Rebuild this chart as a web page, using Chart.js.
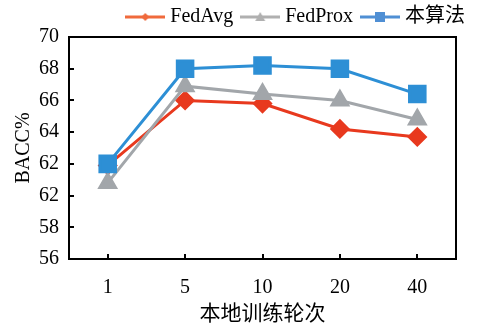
<!DOCTYPE html>
<html>
<head>
<meta charset="utf-8">
<script src="https://cdn.jsdelivr.net/npm/chart.js@4"></script>
<style>
  html, body { margin: 0; padding: 0; background: #fff; }
  #wrap { width: 482px; height: 325px; }
</style>
</head>
<body>
<div id="wrap"><canvas id="baccChart" width="482" height="325"></canvas></div>
<script>
const ROUNDS = ['1', '5', '10', '20', '40'];
const FEDAVG = [61.9, 66.0, 65.8, 64.2, 63.7];
const FEDPROX = [60.8, 66.9, 66.4, 66.0, 64.8];
const OURS = [62.0, 68.0, 68.2, 68.0, 66.4];
const Y_TICKS = ['56', '58', '62', '62', '64', '66', '68', '70'];

const FONT = "'Liberation Serif', 'Noto Sans CJK SC', serif";

// little line + marker swatch for the legend
function swatch(color, shape) {
    const c = document.createElement('canvas');
    c.width = 40; c.height = 14;
    const g = c.getContext('2d');
    g.strokeStyle = color;
    g.lineWidth = 3;
    g.beginPath(); g.moveTo(0, 7); g.lineTo(40, 7); g.stroke();
    g.fillStyle = color;
    g.beginPath();
    if (shape === 'diamond') {
        g.moveTo(20, 3); g.lineTo(24, 7); g.lineTo(20, 11); g.lineTo(16, 7);
    } else if (shape === 'triangle') {
        g.moveTo(20, 2); g.lineTo(25, 11); g.lineTo(15, 11);
    } else {
        g.rect(15, 2, 10, 10);
    }
    g.closePath(); g.fill();
    return c;
}

// box round the plot plus inward tick marks
const framePlugin = {
    id: 'frame',
    afterLayout(chart) {
        // pull the legend in a little from the right edge
        chart.legend.right = chart.width - 5;
    },
    afterDatasetsDraw(chart) {
        const { ctx, chartArea: a, scales } = chart;
        ctx.save();
        ctx.strokeStyle = '#000';
        ctx.lineWidth = 2;
        ctx.strokeRect(a.left, a.top, a.right - a.left, a.bottom - a.top);
        ctx.beginPath();
        scales.y.ticks.forEach(t => {
            const y = Math.round(scales.y.getPixelForValue(t.value));
            ctx.moveTo(a.left, y); ctx.lineTo(a.left + 5, y);
        });
        ROUNDS.forEach((r, i) => {
            const x = Math.round(scales.x.getPixelForValue(i));
            ctx.moveTo(x, a.bottom); ctx.lineTo(x, a.bottom - 5);
        });
        ctx.stroke();
        ctx.restore();
    }
};

const ctx = document.getElementById('baccChart').getContext('2d');
new Chart(ctx, {
    type: 'line',
    data: {
        labels: ROUNDS,
        datasets: [
            {
                label: 'FedAvg',
                data: FEDAVG,
                borderColor: '#e8391e',
                backgroundColor: '#e8391e',
                borderWidth: 3,
                pointStyle: 'rectRot',
                pointRadius: 8,
                pointHoverRadius: 8,
                order: 2,
                legendSwatch: swatch('#f06a3c', 'diamond')
            },
            {
                label: 'FedProx',
                data: FEDPROX,
                borderColor: '#a2a6aa',
                backgroundColor: '#a2a6aa',
                borderWidth: 3,
                pointStyle: 'triangle',
                pointRadius: 9,
                pointHoverRadius: 9,
                order: 1,
                legendSwatch: swatch('#b0b0b0', 'triangle')
            },
            {
                label: '本算法',
                data: OURS,
                borderColor: '#2d8fd5',
                backgroundColor: '#2d8fd5',
                borderWidth: 3,
                pointStyle: 'rect',
                pointRadius: 11,
                pointHoverRadius: 11,
                order: 0,
                legendSwatch: swatch('#4f8fd4', 'square')
            }
        ]
    },
    options: {
        responsive: false,
        animation: false,
        layout: { padding: { left: 0, right: 26, top: -5, bottom: 0 } },
        plugins: {
            legend: {
                position: 'top',
                align: 'end',
                labels: {
                    usePointStyle: true,
                    pointStyleWidth: 30,
                    padding: 12,
                    color: '#000',
                    font: { family: FONT, size: 20, lineHeight: 1 },
                    generateLabels(chart) {
                        return chart.data.datasets.map((ds, i) => ({
                            text: ds.label,
                            pointStyle: ds.legendSwatch,
                            fontColor: '#000',
                            lineWidth: 0,
                            strokeStyle: 'transparent',
                            fillStyle: 'transparent',
                            datasetIndex: i,
                            hidden: false
                        }));
                    }
                }
            },
            tooltip: { enabled: false }
        },
        scales: {
            x: {
                offset: true,
                grid: { display: false, drawTicks: false },
                border: { display: true, color: '#000', width: 2 },
                ticks: {
                    color: '#000',
                    padding: 17,
                    font: { family: FONT, size: 20 }
                },
                title: {
                    display: true,
                    text: '本地训练轮次',
                    color: '#000',
                    font: { family: FONT, size: 21, lineHeight: 1 },
                    padding: { top: 6, bottom: 0 }
                },
                afterFit(scale) { scale.height = 66; }
            },
            y: {
                min: 56,
                max: 70,
                grid: { display: false, drawTicks: false },
                border: { display: true, color: '#000', width: 2 },
                ticks: {
                    stepSize: 2,
                    color: '#000',
                    padding: 10,
                    font: { family: FONT, size: 20 },
                    callback: (v, i) => Y_TICKS[i]
                },
                title: {
                    display: true,
                    text: 'BACC%',
                    color: '#000',
                    font: { family: FONT, size: 20 },
                    padding: { top: 12, bottom: 2 }
                },
                afterFit(scale) { scale.width = 69; }
            }
        }
    },
    plugins: [framePlugin]
});
</script>
</body>
</html>
